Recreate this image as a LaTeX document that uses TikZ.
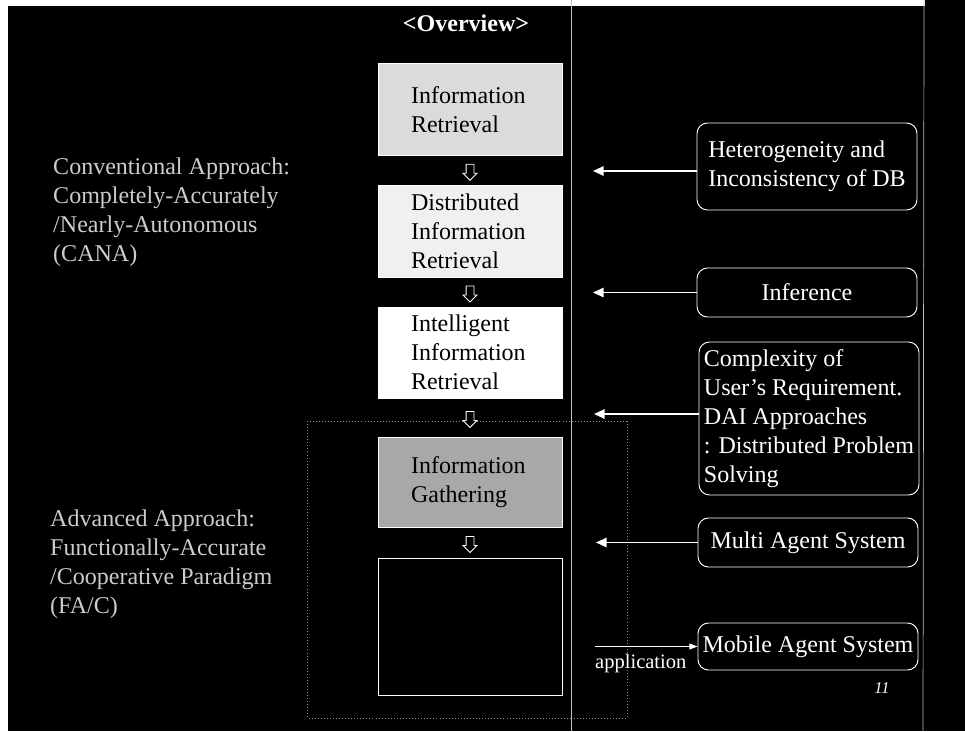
\documentclass[tikz,border=0pt]{standalone}
\usepackage{fontspec}
\setmainfont{Liberation Serif}
\usetikzlibrary{shapes.arrows,arrows.meta,calc}
\newcommand\slidefont{\fontsize{20.5}{24.6}\selectfont}

\begin{document}
\begin{tikzpicture}[x=.03cm,y=-.03cm,
  stage/.style={draw=white,line width=.8pt,minimum width=5.52cm,text width=3.54cm,inner xsep=.99cm,inner ysep=0pt,align=left,font=\slidefont,text=black},
  issue/.style={draw=white,line width=.8pt,rounded corners=9pt,fill=black,text=white,minimum width=6.6cm,inner xsep=2pt,inner ysep=0pt,align=left,font=\slidefont},
  flow/.style={single arrow,shape border rotate=270,draw=white,fill=black,line width=.7pt,inner sep=.105cm,minimum height=.48cm,single arrow head extend=.09cm},
  feed/.style={draw=white,line width=1.2pt,-{Triangle[length=9pt,width=8pt]}},
  side/.style={anchor=north west,inner sep=0pt,align=left,font=\slidefont,text=white!80!black}]
\useasboundingbox (0,0) rectangle (965,731);
% slide background
\fill[white] (0,0) rectangle (965,731);
\fill[black] (8,6) rectangle (965,731);
\fill[black] (925,0) rectangle (965,6);
\draw[white!75!black,line width=.6pt] (571,0) -- (571,731);
\draw[white!75!black,line width=.6pt] (924,0) -- (923,731);
\draw[white!55!black,dotted,line width=.6pt] (307,421) rectangle (627,718);

\node[font=\bfseries\slidefont,text=white,anchor=base] (title) at (466,32) {<Overview>};

% left column of stages
\node[stage,fill=black!14,minimum height=2.76cm] (ir) at (470,109.5) {Information\\Retrieval};
\node[stage,fill=black!6,minimum height=2.76cm] (dir) at (470,231) {Distributed\\Information\\Retrieval};
\node[stage,fill=white,minimum height=2.73cm] (iir) at (470,352.5) {Intelligent\\Information\\Retrieval};
\node[stage,fill=black!34,minimum height=2.7cm] (ig) at (470,482) {Information\\Gathering};
\node[stage,fill=black,minimum height=4.11cm] (next) at (470,626.5) {};
\node[flow] (a1) at ($(ir.south)!.5!(dir.north)$) {};
\node[flow] (a2) at ($(dir.south)!.5!(iir.north)$) {};
\node[flow] (a3) at ($(iir.south)!.5!(ig.north)$) {};
\node[flow] (a4) at ($(ig.south)!.5!(next.north)$) {};

\node[side] (cana) at (53,158) {Conventional Approach:\\Completely-Accurately\\/Nearly-Autonomous\\(CANA)};
\node[side] (fac) at (50,510) {Advanced Approach:\\Functionally-Accurate\\/Cooperative Paradigm\\(FA/C)};

% right column of issues
\node[issue,minimum height=2.61cm] (hetero) at (807,166.5) {Heterogeneity and\\Inconsistency of DB};
\node[issue,minimum height=1.47cm] (infer) at (807,292.5) {Inference};
\node[issue,minimum height=4.59cm] (complex) at (809,418.5) {Complexity of\\User's Requirement.\\DAI Approaches\\: Distributed Problem\\Solving};
\node[issue,minimum height=1.47cm] (multi) at (808,542.5) {Multi Agent System};
\node[issue,minimum height=1.41cm] (mobile) at (808,646.5) {Mobile Agent System};

\coordinate (t1) at (593,171);
\coordinate (t2) at (593,292.5);
\coordinate (t3) at (594,414);
\coordinate (t4) at (596,542.5);
\coordinate (app) at (595,646.5);
\draw[feed] (hetero.west |- t1) -- (t1);
\draw[feed] (infer.west) -- (t2);
\draw[feed] (complex.west |- t3) -- (t3);
\draw[feed] (multi.west) -- (t4);
\draw[draw=white,line width=.9pt,-{Triangle[length=7pt,width=5pt]}] (app) -- (mobile.west);
\node[anchor=base west,inner sep=0pt,font=\fontsize{17.5}{20}\selectfont,text=white] (applbl) at (595,668) {application};

\node[anchor=base,inner sep=0pt,font=\fontsize{14}{16}\selectfont\itshape,text=white] (pageno) at (882,693) {11};
\end{tikzpicture}
\end{document}
